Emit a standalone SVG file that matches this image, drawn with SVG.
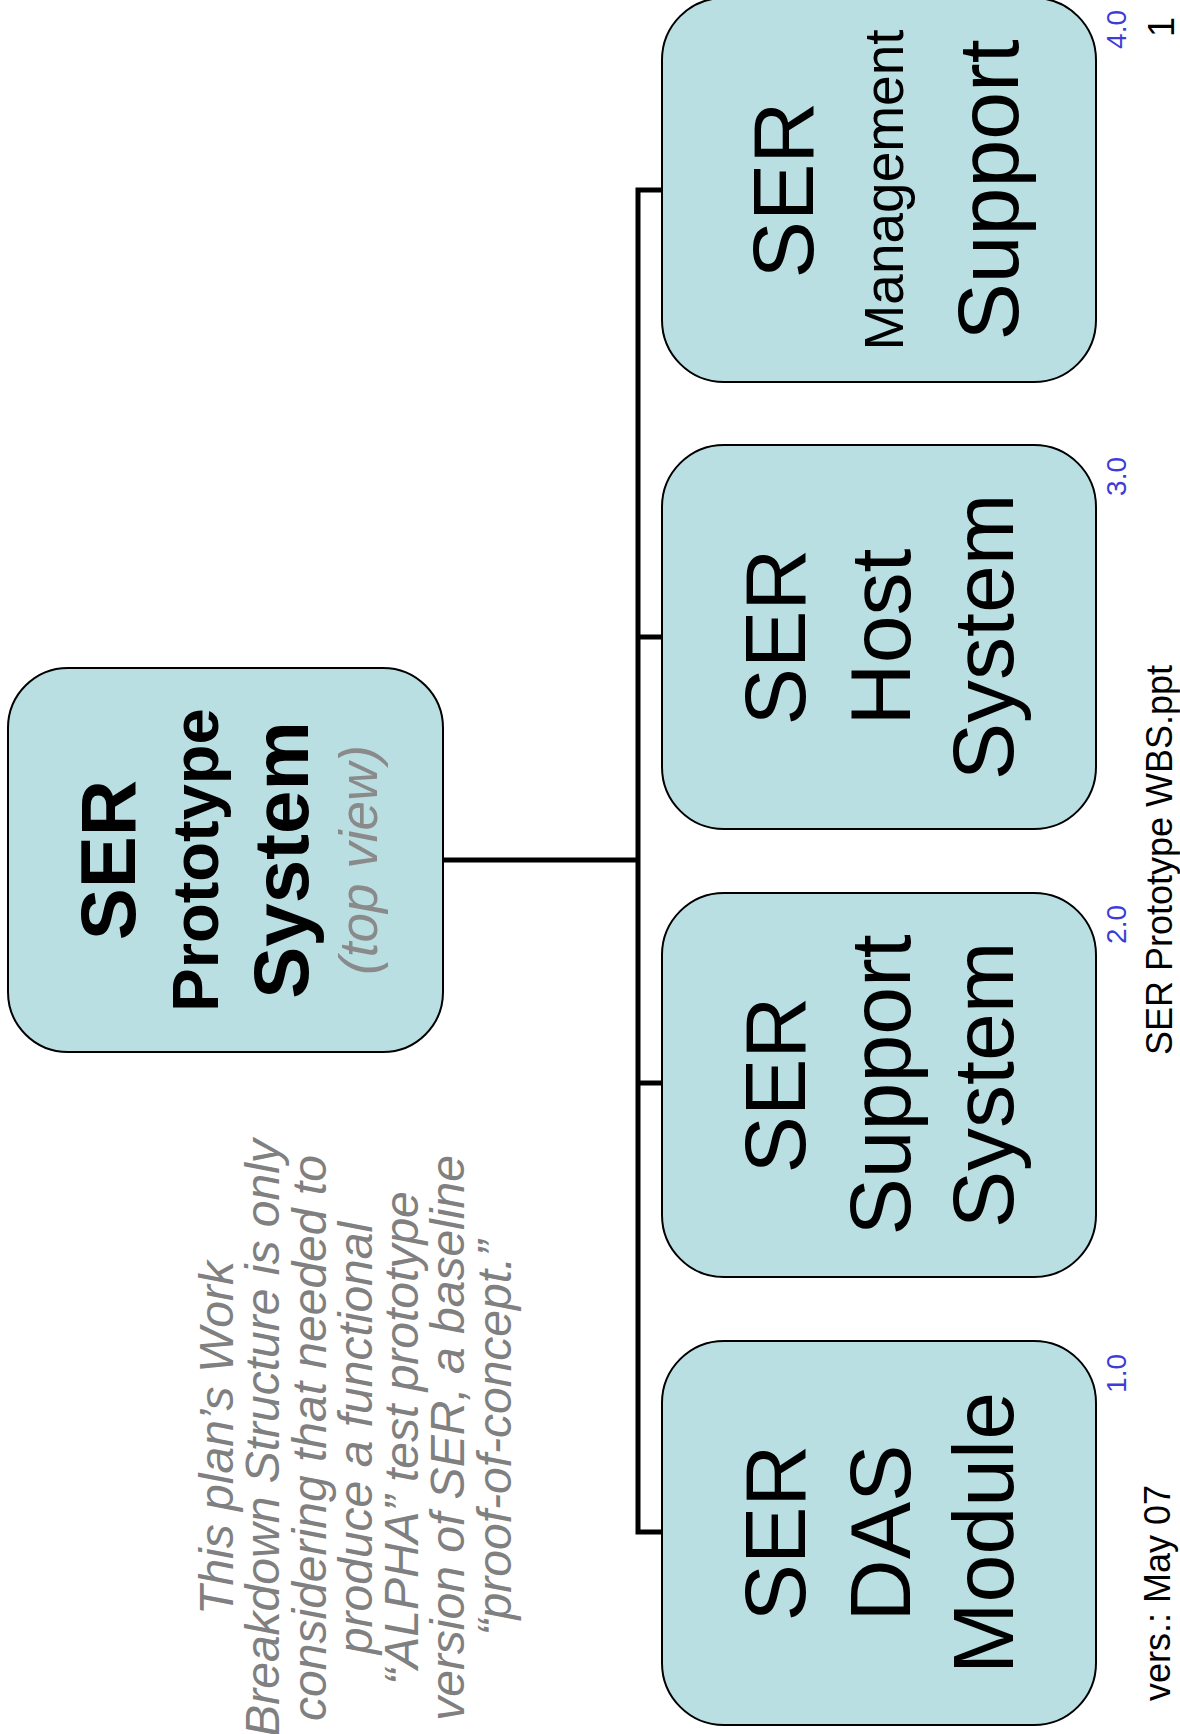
<svg xmlns="http://www.w3.org/2000/svg" width="1180" height="1734" viewBox="0 0 1180 1734">
<style>
.box{fill:#b9dfe3;stroke:#000;stroke-width:2}
.t{font-family:"Liberation Sans",Arial,sans-serif;fill:#000;text-anchor:middle}
.b{font-weight:bold}
.big{font-size:86px}
.sub{font-style:italic;fill:#8a8a8a}
.num{font-family:"Liberation Sans",Arial,sans-serif;font-size:28px;fill:#3c3cd6;text-anchor:end}
.foot{font-family:"Liberation Sans",Arial,sans-serif;font-size:36px;fill:#000}
.note{font-family:"Liberation Sans",Arial,sans-serif;font-size:48px;font-style:italic;fill:#808080;text-anchor:middle}
.conn{fill:none;stroke:#000;stroke-width:5;stroke-linecap:square}
</style>
<rect width="1180" height="1734" fill="#fff"/>
<g id="connectors">
<path class="conn" d="M443,860 H638 M638,190 V1532 M638,190 H662 M638,637 H662 M638,1083 H662 M638,1532 H662"/>
</g>
<g id="root">
<rect class="box" x="8" y="668" width="435" height="384" rx="60" ry="60"/>
<g transform="translate(225,860) rotate(-90)">
<text class="t b" x="0" y="-90" font-size="78">SER</text>
<text class="t b" x="0" y="-7" font-size="65">Prototype</text>
<text class="t b" x="0" y="83" font-size="78">System</text>
<text class="t sub" x="0" y="152" font-size="53">(top view)</text>
</g>
</g>
<g id="n4">
<rect class="box" x="662" y="-2" width="434" height="384" rx="62" ry="62"/>
<g transform="translate(876,190) rotate(-90)">
<text class="t big" x="0" y="-63">SER</text>
<text class="t" x="0" y="27" font-size="55">Management</text>
<text class="t big" x="0" y="142">Support</text>
</g>
<text class="num" transform="translate(1126,10) rotate(-90)">4.0</text>
</g>
<g id="n3">
<rect class="box" x="662" y="445" width="434" height="384" rx="62" ry="62"/>
<g transform="translate(876,637) rotate(-90)">
<text class="t big" x="0" y="-71">SER</text>
<text class="t big" x="0" y="34">Host</text>
<text class="t big" x="0" y="137">System</text>
</g>
<text class="num" transform="translate(1126,457) rotate(-90)">3.0</text>
</g>
<g id="n2">
<rect class="box" x="662" y="893" width="434" height="384" rx="62" ry="62"/>
<g transform="translate(876,1085) rotate(-90)">
<text class="t big" x="0" y="-71">SER</text>
<text class="t big" x="0" y="34">Support</text>
<text class="t big" x="0" y="137">System</text>
</g>
<text class="num" transform="translate(1126,905) rotate(-90)">2.0</text>
</g>
<g id="n1">
<rect class="box" x="662" y="1341" width="434" height="384" rx="62" ry="62"/>
<g transform="translate(876,1533) rotate(-90)">
<text class="t big" x="0" y="-71">SER</text>
<text class="t big" x="0" y="34">DAS</text>
<text class="t big" x="0" y="137">Module</text>
</g>
<text class="num" transform="translate(1126,1354) rotate(-90)">1.0</text>
</g>
<g id="note" transform="translate(0,1438) rotate(-90)">
<text class="note" x="0" y="233">This plan’s Work</text>
<text class="note" x="0" y="279">Breakdown Structure is only</text>
<text class="note" x="0" y="326">considering that needed to</text>
<text class="note" x="0" y="372">produce a functional</text>
<text class="note" x="0" y="418">“ALPHA” test prototype</text>
<text class="note" x="0" y="464">version of SER, a baseline</text>
<text class="note" x="0" y="511">“proof-of-concept.”</text>
</g>
<g id="footer">
<text class="foot" text-anchor="middle" transform="translate(1172,860) rotate(-90)">SER Prototype WBS.ppt</text>
<text class="foot" text-anchor="middle" transform="translate(1170,1593) rotate(-90)">vers.: May 07</text>
<text class="foot" text-anchor="start" transform="translate(1174,37) rotate(-90)">1</text>
</g>
</svg>
